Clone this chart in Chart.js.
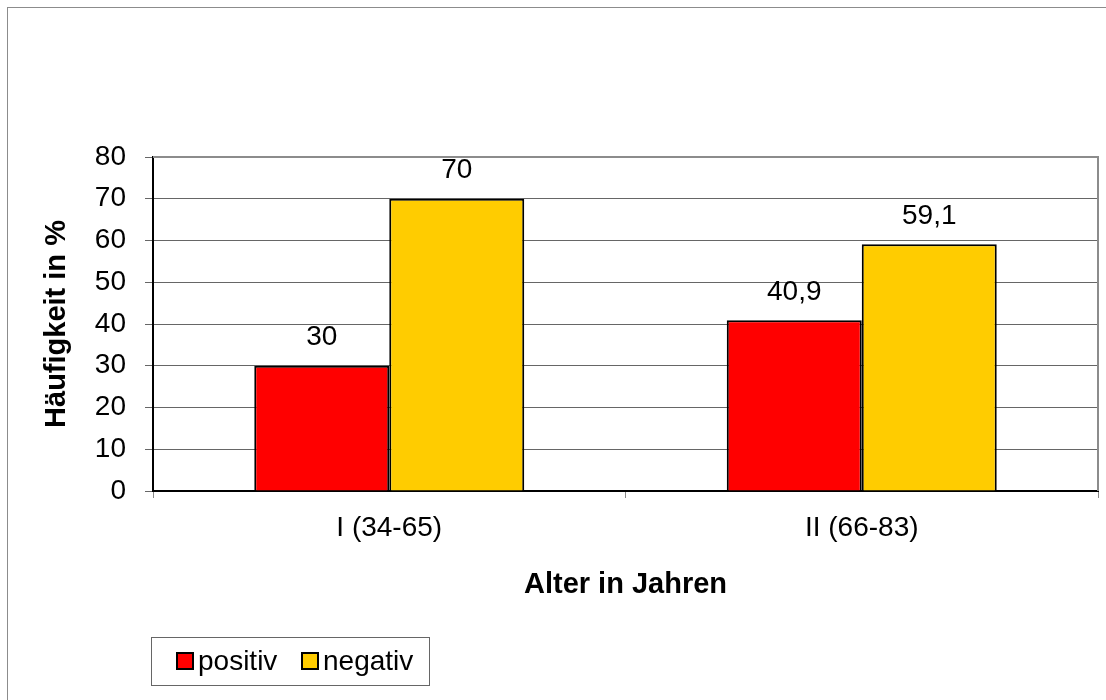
<!DOCTYPE html>
<html>
<head>
<meta charset="utf-8">
<script src="https://cdn.jsdelivr.net/npm/chart.js@4/dist/chart.umd.min.js"></script>
<style>
  html, body { margin: 0; padding: 0; background: #fff; }
  canvas { display: block; }
</style>
</head>
<body>
<canvas id="c" width="1106" height="700"></canvas>
<script>
// Age groups and share of positive / negative findings (%)
const categories = ['I (34-65)', 'II (66-83)'];
const positiv = [30, 40.9];
const negativ = [70, 59.1];
const seriesNames = ['positiv', 'negativ'];
const yTicks = [0, 10, 20, 30, 40, 50, 60, 70, 80];

const FONT = 'Arial, "Liberation Sans", sans-serif';
const TEXT_SIZE = 28;
const TITLE_SIZE = 29;
const fmt = v => String(v).replace('.', ',');

// Value labels above each bar
const valueLabels = {
  id: 'valueLabels',
  afterDatasetsDraw(chart) {
    const ctx = chart.ctx;
    ctx.save();
    ctx.font = TEXT_SIZE + 'px ' + FONT;
    ctx.fillStyle = '#000';
    ctx.textAlign = 'center';
    ctx.textBaseline = 'middle';
    chart.data.datasets.forEach((ds, i) => {
      chart.getDatasetMeta(i).data.forEach((bar, j) => {
        ctx.fillText(fmt(ds.data[j]), bar.x, bar.y - 28);
      });
    });
    ctx.restore();
  }
};

// Frame around the whole chart, plot-area edges and the boxed legend
const frame = {
  id: 'frame',
  beforeDatasetsDraw(chart) {
    const ctx = chart.ctx;
    const a = chart.chartArea;
    ctx.save();
    ctx.strokeStyle = '#8c8c8c';
    ctx.lineWidth = 2;
    ctx.beginPath();
    ctx.moveTo(a.left, a.top);
    ctx.lineTo(a.right, a.top);
    ctx.lineTo(a.right, a.bottom);
    ctx.stroke();
    ctx.restore();
  },
  afterDraw(chart) {
    const ctx = chart.ctx;
    ctx.save();
    ctx.strokeStyle = '#8c8c8c';
    ctx.lineWidth = 1;
    ctx.strokeRect(7.5, 7.5, 1200, 800);

    // legend box
    const bx = 151.5, by = 637.5, bw = 278, bh = 48;
    ctx.strokeStyle = '#666';
    ctx.strokeRect(bx, by, bw, bh);
    ctx.font = TEXT_SIZE + 'px ' + FONT;
    ctx.textBaseline = 'middle';
    ctx.textAlign = 'left';
    const items = [177, 302];
    chart.data.datasets.forEach((ds, i) => {
      const x = items[i];
      const cy = 661;
      ctx.fillStyle = ds.backgroundColor;
      ctx.fillRect(x, cy - 8, 16, 16);
      ctx.strokeStyle = '#000';
      ctx.lineWidth = 2;
      ctx.strokeRect(x, cy - 8, 16, 16);
      ctx.fillStyle = '#000';
      ctx.fillText(ds.label, x + 21, cy + 1);
    });
    ctx.restore();
  }
};

new Chart(document.getElementById('c'), {
  type: 'bar',
  data: {
    labels: categories,
    datasets: [
      { label: seriesNames[0], data: positiv, backgroundColor: '#ff0000', borderColor: '#000', borderWidth: 2 },
      { label: seriesNames[1], data: negativ, backgroundColor: '#ffcc00', borderColor: '#000', borderWidth: 2 }
    ]
  },
  options: {
    responsive: false,
    animation: false,
    events: [],
    layout: { padding: { left: 0, top: 157, right: 8, bottom: 95 } },
    datasets: { bar: { categoryPercentage: 0.5714, barPercentage: 1 } },
    plugins: { legend: { display: false }, tooltip: { enabled: false } },
    scales: {
      x: {
        afterFit(s) { s.height = 114; },
        grid: { offset: true, drawOnChartArea: false, drawTicks: true, tickLength: 7, color: '#888', lineWidth: 1 },
        border: { display: true, color: '#000', width: 2 },
        ticks: { color: '#000', padding: 13, font: { size: TEXT_SIZE, family: FONT } },
        title: { display: true, text: 'Alter in Jahren', color: '#000', padding: { top: 0, bottom: 3 }, font: { size: TITLE_SIZE, weight: 'bold', family: FONT } }
      },
      y: {
        min: 0, max: 80,
        afterFit(s) { s.width = 153; },
        afterBuildTicks(s) { s.ticks = yTicks.map(v => ({ value: v })); },
        grid: { color: '#666', lineWidth: 1, drawTicks: true, tickLength: 8 },
        border: { display: true, color: '#000', width: 2 },
        ticks: { color: '#000', padding: 19, font: { size: TEXT_SIZE, family: FONT } },
        title: { display: true, text: 'Häufigkeit in %', color: '#000', padding: { top: 40, bottom: 0 }, font: { size: TITLE_SIZE, weight: 'bold', family: FONT } }
      }
    }
  },
  plugins: [frame, valueLabels]
});
</script>
</body>
</html>
